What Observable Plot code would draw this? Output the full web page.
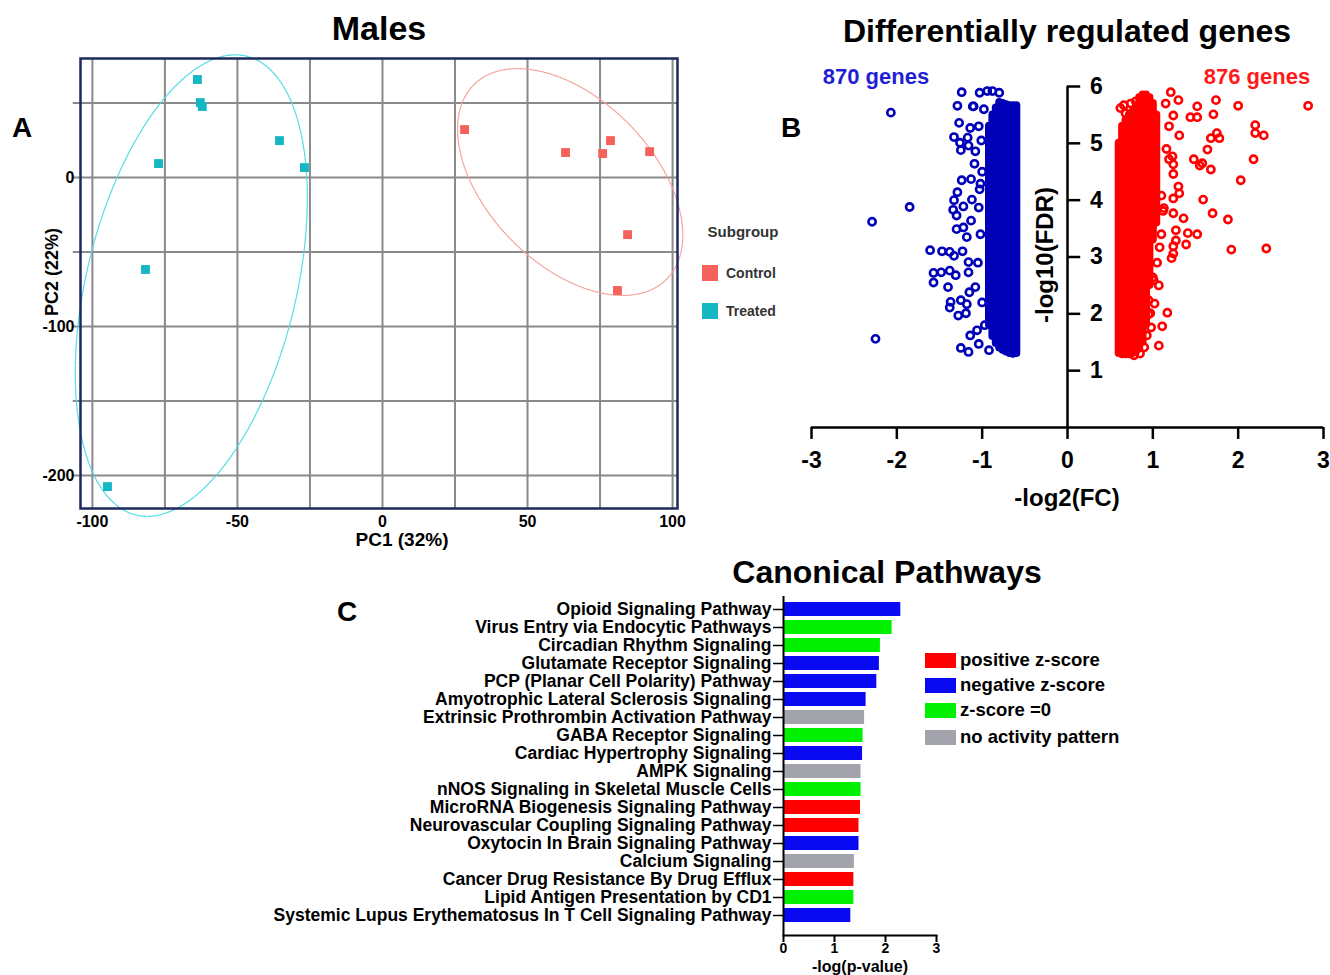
<!DOCTYPE html>
<html><head><meta charset="utf-8">
<script src="https://cdn.jsdelivr.net/npm/d3@7"></script>
<script src="https://cdn.jsdelivr.net/npm/@observablehq/plot@0.6"></script>
<style>
body{margin:0;background:#fff;}
#page{position:relative;width:1330px;height:975px;overflow:hidden;font-family:"Liberation Sans",Arial,sans-serif;color:#000;background:#fff;}
.lbl{position:absolute;white-space:nowrap;transform:translate(-50%,-50%);font-weight:bold;line-height:1;}
.panel{position:absolute;}
.panel svg{background:transparent !important;overflow:visible;}
</style></head><body><div id="page"></div>
<script>
// ---------- Panel A: PCA (Males) ----------
const pc1Treated = [-63.8, -62.8, -62.1, -35.5, -77.2, -26.9, -81.7, -94.8];
const pc2Treated = [65.8, 50.3, 47.7, 24.8, 9.4, 6.7, -61.7, -207.4];
const pc1Control = [28.3, 63.1, 75.9, 78.6, 92.1, 84.5, 81.0];
const pc2Control = [32.2, 16.8, 16.1, 24.8, 17.4, -38.3, -75.8];
const pcaXTicks = [-100, -50, 0, 50, 100];
const pcaYTicks = [0, -100, -200];
const pcaXGrid = [-100, -75, -50, -25, 0, 25, 50, 75, 100];
const pcaYGrid = [50, 0, -50, -100, -150, -200];
// ellipse: centre, major semi-axis vector, minor semi-axis vector (data units)
const ellTreatedCenter = [-65.9, -72.5], ellTreatedMajor = [19.0, 154.0], ellTreatedMinor = [35.2, -16.4];
const ellControlCenter = [64.7, -3.0], ellControlMajor = [33.1, -65.5], ellControlMinor = [20.3, 38.8];
const subgroups = ["Control", "Treated"];

// ---------- Panel B: differentially regulated genes ----------
const downCount = "870 genes", upCount = "876 genes";
const volcanoXTicks = [-3, -2, -1, 0, 1, 2, 3];
const volcanoYTicks = [1, 2, 3, 4, 5, 6];
// dense cores: [log2FC column, lowest -log10FDR, highest -log10FDR]
const downCore = [[-0.60,1.30,5.66],[-0.64,1.29,5.66],[-0.68,1.30,5.66],[-0.72,1.33,5.68],[-0.76,1.36,5.70],
  [-0.80,1.40,5.72],[-0.84,1.48,5.62],[-0.88,1.60,5.50],[-0.92,1.80,5.30]];
const upCore = [[0.60,1.30,5.00],[0.64,1.28,5.30],[0.68,1.28,5.40],[0.72,1.28,5.50],[0.76,1.30,5.55],[0.80,1.32,5.65],
  [0.84,1.38,5.80],[0.88,1.50,5.85],[0.92,1.80,5.85],[0.96,2.50,5.80],[1.00,3.30,5.70],[1.04,3.60,5.50]];
const downGenes = [[-2.07,5.54],[-1.85,3.88],[-2.29,3.62],[-2.25,1.56],
  [-1.24,5.90],[-1.03,5.89],[-0.94,5.92],[-0.88,5.92],[-0.80,5.89],
  [-1.29,5.66],[-1.11,5.65],[-1.27,5.36],[-1.14,5.27],[-1.04,5.30],[-1.33,5.11],[-1.26,5.01],[-1.17,5.10],
  [-1.25,4.88],[-1.16,4.96],[-1.08,4.86],[-1.09,4.64],[-1.24,4.35],[-1.13,4.37],[-1.02,4.29],[-1.03,4.19],
  [-1.29,4.14],[-1.33,4.00],[-1.34,3.83],[-1.12,4.01],[-1.22,3.89],[-1.30,3.73],[-1.13,3.64],[-1.04,3.87],
  [-1.30,3.49],[-1.22,3.52],[-1.18,3.35],[-1.61,3.12],[-1.47,3.10],[-1.38,3.09],[-1.33,3.02],[-1.23,3.10],
  [-1.16,2.91],[-1.57,2.72],[-1.48,2.73],[-1.38,2.76],[-1.31,2.68],[-1.57,2.55],[-1.40,2.47],[-1.16,2.73],
  [-1.15,2.38],[-1.08,2.47],[-1.37,2.21],[-1.38,2.11],[-1.25,2.24],[-1.18,2.17],[-1.28,1.97],[-1.19,2.01],
  [-1.14,1.62],[-1.06,1.71],[-1.25,1.40],[-1.16,1.33],[-1.04,1.47],[-0.92,1.36],[-1.01,5.05],[-1.10,5.65],
  [-0.98,5.60],[-1.00,4.50],[-1.02,3.40],[-1.05,2.90],[-1.00,2.20],[-0.97,1.80]];
const upGenes = [[2.82,5.66],[1.21,5.90],[1.30,5.76],[1.52,5.65],[1.74,5.76],[2.00,5.66],[1.44,5.46],[1.52,5.46],
  [1.71,5.51],[2.20,5.32],[2.20,5.18],[2.30,5.14],[1.68,5.09],[1.75,5.18],[1.78,5.09],[1.64,4.89],[2.18,4.72],
  [1.48,4.72],[1.55,4.61],[1.58,4.65],[1.68,4.54],[2.03,4.35],[1.59,4.01],[1.70,3.77],[1.88,3.66],[1.24,5.49],
  [1.31,5.14],[1.23,4.77],[1.24,4.63],[1.24,4.46],[1.30,4.24],[1.31,4.12],[1.24,4.03],[1.10,4.08],[1.13,3.86],
  [1.24,3.77],[1.36,3.68],[1.01,3.66],[1.27,3.47],[1.41,3.42],[1.52,3.40],[1.39,3.22],[1.27,3.29],[1.24,3.19],
  [1.08,3.17],[1.24,3.06],[1.22,2.98],[1.92,3.13],[2.33,3.15],[1.07,2.50],[1.01,2.59],[0.95,2.24],[1.02,2.18],
  [1.17,2.02],[0.97,2.01],[0.98,1.76],[1.11,1.78],[0.93,1.62],[1.07,1.44],[0.90,1.41],[0.66,5.67],[0.68,5.53],
  [0.62,5.62],[0.74,5.70],[0.80,5.74],[1.15,5.70],[1.19,5.30],[1.16,4.90],[1.19,4.72],[1.12,3.81],[1.10,3.40],
  [1.05,2.90],[1.00,2.64],[0.95,1.99],[0.85,1.30],[0.78,1.27]];

// ---------- Panel C: canonical pathways ----------
const pathways = ["Opioid Signaling Pathway","Virus Entry via Endocytic Pathways","Circadian Rhythm Signaling",
  "Glutamate Receptor Signaling","PCP (Planar Cell Polarity) Pathway","Amyotrophic Lateral Sclerosis Signaling",
  "Extrinsic Prothrombin Activation Pathway","GABA Receptor Signaling","Cardiac Hypertrophy Signaling","AMPK Signaling",
  "nNOS Signaling in Skeletal Muscle Cells","MicroRNA Biogenesis Signaling Pathway","Neurovascular Coupling Signaling Pathway",
  "Oxytocin In Brain Signaling Pathway","Calcium Signaling","Cancer Drug Resistance By Drug Efflux",
  "Lipid Antigen Presentation by CD1","Systemic Lupus Erythematosus In T Cell Signaling Pathway"];
const negLogP = [2.30,2.13,1.90,1.88,1.83,1.62,1.59,1.56,1.55,1.52,1.52,1.51,1.48,1.48,1.39,1.38,1.38,1.32];
const zScoreClass = ["negative","zero","zero","negative","negative","negative","none","zero","negative","none",
  "zero","positive","positive","negative","none","positive","zero","negative"];
const zClassKeys = ["positive","negative","zero","none"];
const zClassLabels = ["positive z-score","negative z-score","z-score =0","no activity pattern"];
const pathTicks = [0, 1, 2, 3];

// ---------- build ----------
const page = document.getElementById("page");
function place(node, left, top, width) {
  const d = document.createElement("div");
  d.className = "panel"; d.style.left = left + "px"; d.style.top = top + "px"; d.style.width = width + "px";
  d.appendChild(node); page.appendChild(d);
}
function label(text, x, y, size, extra) {
  const d = document.createElement("div");
  d.className = "lbl"; d.textContent = text;
  d.style.left = x + "px"; d.style.top = y + "px"; d.style.fontSize = size + "px";
  if (extra) Object.assign(d.style, extra);
  page.appendChild(d); return d;
}
function ellipse(c, u, v) {
  return d3.range(0, 361, 2).map(t => { const r = t * Math.PI / 180;
    return {x: c[0] + u[0]*Math.cos(r) + v[0]*Math.sin(r), y: c[1] + u[1]*Math.cos(r) + v[1]*Math.sin(r)}; });
}

const treated = pc1Treated.map((x, i) => ({x, y: pc2Treated[i]}));
const control = pc1Control.map((x, i) => ({x, y: pc2Control[i]}));
const cyan = "#15b7c3", salmon = "#f5625b";

const plotA = Plot.plot({
  width: 700, height: 520, marginLeft: 80, marginRight: 23, marginTop: 18, marginBottom: 52,
  x: {domain: [-104.1, 101.7]}, y: {domain: [-222.1, 79.9]},
  style: {fontFamily: "Liberation Sans, Arial, sans-serif", fontWeight: "bold", color: "#000"},
  marks: [
    Plot.ruleX(pcaXGrid, {x: d => d, stroke: "#8a8a8a", strokeWidth: 2}),
    Plot.ruleY(pcaYGrid, {y: d => d, x1: -106.6, x2: 101.7, stroke: "#8a8a8a", strokeWidth: 2}),
    Plot.line(ellipse(ellTreatedCenter, ellTreatedMajor, ellTreatedMinor), {x: "x", y: "y", stroke: "#4fdbe6", strokeWidth: 1.3, strokeDasharray: "1.3 1.3"}),
    Plot.line(ellipse(ellControlCenter, ellControlMajor, ellControlMinor), {x: "x", y: "y", stroke: "#f6a29d", strokeWidth: 1.3, strokeDasharray: "1.3 1.3"}),
    Plot.dot(treated, {x: "x", y: "y", symbol: "square", r: 5, fill: cyan}),
    Plot.dot(control, {x: "x", y: "y", symbol: "square", r: 5, fill: salmon}),
    Plot.frame({stroke: "#1c2a5c", strokeWidth: 2.5}),
    Plot.axisX(pcaXTicks, {tickSize: 0, tickPadding: 7, label: null, fontSize: 16, tickFormat: d => String(d)}),
    Plot.axisY(pcaYTicks, {tickSize: 0, tickPadding: 6, label: null, fontSize: 16, tickFormat: d => String(d)})
  ]
});
place(plotA, 0, 40, 700);

const blue = "#0000b8", red = "#ff0000";
const plotB = Plot.plot({
  width: 550, height: 480, marginLeft: 31, marginRight: 7, marginTop: 46, marginBottom: 93,
  x: {domain: [-3, 3], axis: null}, y: {domain: [0, 6], axis: null},
  style: {fontFamily: "Liberation Sans, Arial, sans-serif", fontWeight: "bold", color: "#000"},
  marks: [
    Plot.ruleX(downCore, {x: d => d[0], y1: d => d[1], y2: d => d[2], stroke: blue, strokeWidth: 8, strokeLinecap: "round"}),
    Plot.ruleX(upCore, {x: d => d[0], y1: d => d[1], y2: d => d[2], stroke: red, strokeWidth: 8, strokeLinecap: "round"}),
    Plot.dot(downGenes, {x: d => d[0], y: d => d[1], r: 3.6, stroke: blue, strokeWidth: 2.6}),
    Plot.dot(upGenes, {x: d => d[0], y: d => d[1], r: 3.6, stroke: red, strokeWidth: 2.6}),
    Plot.ruleY([0], {x1: -3, x2: 3, stroke: "#000", strokeWidth: 2.5}),
    Plot.ruleX([0], {y1: 0, y2: 6, stroke: "#000", strokeWidth: 2.5}),
    Plot.ruleX(volcanoXTicks, {x: d => d, y1: 0, y2: -0.21, stroke: "#000", strokeWidth: 2.5}),
    Plot.ruleY(volcanoYTicks, {y: d => d, x1: 0, x2: 0.155, stroke: "#000", strokeWidth: 2.5}),
    Plot.text(volcanoXTicks, {x: d => d, y: 0, dy: 33, text: d => String(d), fontSize: 23}),
    Plot.text(volcanoYTicks, {x: 0, y: d => d, dx: 29, text: d => String(d), fontSize: 23})
  ]
});
place(plotB, 780, 40, 550);

const zColors = ["#fe0000", "#0a0af2", "#00f000", "#a3a3ab"];
const pathData = pathways.map((name, i) => ({name, v: negLogP[i], cls: zScoreClass[i]}));
const plotC = Plot.plot({
  width: 1060, height: 395, marginLeft: 513, marginRight: 394, marginTop: 16, marginBottom: 40,
  x: {domain: [0, 3]},
  y: {domain: pathways, range: [18, 346], paddingInner: 0.23, paddingOuter: 0.17},
  color: {domain: zClassKeys, range: zColors},
  style: {fontFamily: "Liberation Sans, Arial, sans-serif", fontWeight: "bold", color: "#000"},
  marks: [
    Plot.barX(pathData, {x: "v", y: "name", fill: "cls"}),
    Plot.ruleX([0], {stroke: "#000", strokeWidth: 2}),
    Plot.frame({anchor: "bottom", stroke: "#000", strokeWidth: 2}),
    Plot.axisY({tickSize: 10, tickPadding: 2, label: null, fontSize: 17.5, strokeWidth: 1.5}),
    Plot.axisX(pathTicks, {tickSize: 7, tickPadding: 1, label: null, fontSize: 14, strokeWidth: 2, tickFormat: d => String(d)})
  ]
});
place(plotC, 270, 580, 1060);

// ---------- text ----------
label("Males", 379, 28, 34);
label("Differentially regulated genes", 1067, 31, 32);
label("Canonical Pathways", 887, 572, 32);
label("A", 22, 128, 28); label("B", 791, 128, 28); label("C", 347, 612, 28);
label("PC1  (32%)", 402, 539, 19);
label("PC2 (22%)", 52, 272, 18, {transform: "translate(-50%,-50%) rotate(-90deg)"});
label("Subgroup", 743, 231, 15, {color: "#333"});
const aLegendColors = [salmon, cyan];
subgroups.forEach((s, i) => {
  const y = 273 + i * 38;
  const sw = document.createElement("div");
  Object.assign(sw.style, {position: "absolute", left: "702px", top: (y - 8) + "px", width: "16px", height: "16px", background: aLegendColors[i]});
  page.appendChild(sw);
  label(s, 726, y, 14, {color: "#333", transform: "translate(0,-50%)"});
});
label(downCount, 876, 77, 22, {color: "#1f1fd6"});
label(upCount, 1257, 77, 22, {color: "#ff1a1a"});
label("-log10(FDR)", 1045, 255, 24, {transform: "translate(-50%,-50%) rotate(-90deg)"});
label("-log2(FC)", 1067, 498, 24);
zClassLabels.forEach((s, i) => {
  const y = [660, 685, 710, 737][i];
  const sw = document.createElement("div");
  Object.assign(sw.style, {position: "absolute", left: "925px", top: (y - 7) + "px", width: "31px", height: "15px", background: zColors[i]});
  page.appendChild(sw);
  label(s, 960, y, 18.5, {transform: "translate(0,-50%)"});
});
label("-log(p-value)", 860, 967, 16);
</script></body></html>
